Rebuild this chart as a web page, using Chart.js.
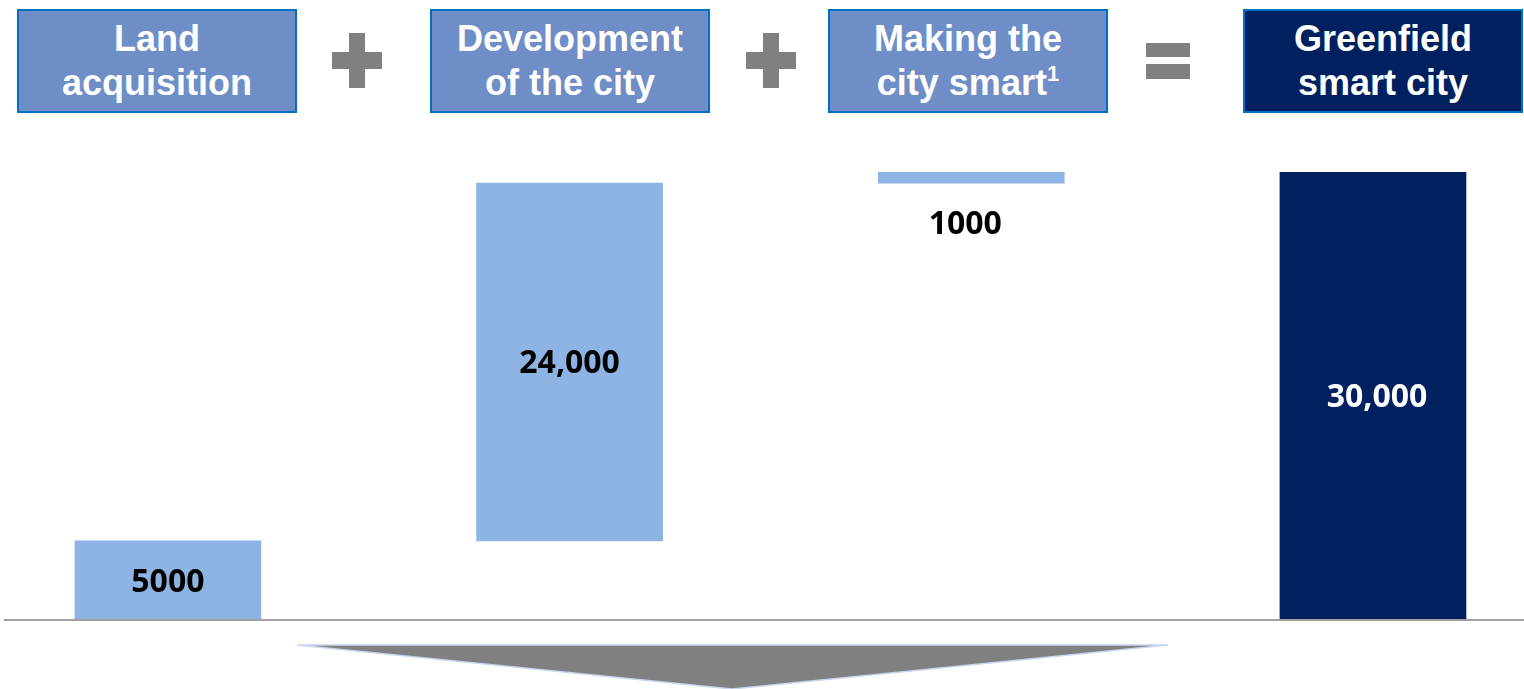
<!DOCTYPE html>
<html>
<head>
<meta charset="utf-8">
<script src="https://cdn.jsdelivr.net/npm/chart.js@4/dist/chart.umd.min.js"></script>
<style>
  html, body { margin: 0; padding: 0; background: #fff; }
  #wrap { position: relative; width: 1524px; height: 689px; overflow: hidden; }
  #myChart { position: absolute; left: 0; top: 0; }
  .hdr {
    position: absolute; top: 9px; width: 276px; height: 100px;
    border: 2px solid #0070C0; background: #6F8DC6; color: #fff;
    font-family: "Liberation Sans", Arial, sans-serif; font-weight: bold;
    font-size: 36px; line-height: 44px; text-align: center;
    display: flex; align-items: center; justify-content: center;
  }
  .hdr sup { font-size: 22px; line-height: 0; vertical-align: 14px; }
  .hdr.total { background: #002060; }
  .op { position: absolute; background: #808080; }
</style>
</head>
<body>
<div id="wrap">
  <canvas id="myChart" width="1524" height="689"></canvas>
</div>
<script>
// categories (header boxes) and values
var categories = ["Land<br>acquisition", "Development<br>of the city", "Making the<br>city smart<sup>1</sup>", "Greenfield<br>smart city"];
var barStarts = [0, 5300, 29250, 0];
var barEnds = [5300, 29250, 30000, 30000];
var valueLabels = ["5000", "24,000", "1000", "30,000"];
var barColors = ["#8EB4E3", "#8EB4E3", "#8EB4E3", "#002060"];
var labelColors = ["#000", "#000", "#000", "#fff"];

var wrap = document.getElementById("wrap");
var boxLeft = [17, 430, 828, 1243];
categories.forEach(function (c, i) {
  var d = document.createElement("div");
  d.className = "hdr" + (i == 3 ? " total" : "");
  d.style.left = boxLeft[i] + "px";
  d.innerHTML = "<span>" + c + "</span>";
  wrap.appendChild(d);
});

// plus, plus, equals
function op(x, y, w, h) {
  var d = document.createElement("div");
  d.className = "op";
  d.style.left = x + "px"; d.style.top = y + "px";
  d.style.width = w + "px"; d.style.height = h + "px";
  wrap.appendChild(d);
}
[332, 746].forEach(function (x) {
  op(x + 17, 33, 16, 55);
  op(x, 52, 50, 17);
});
op(1146, 43, 44, 14);
op(1146, 64, 44, 15);

var data = categories.map(function (c, i) {
  return { x: i, y: [barStarts[i], barEnds[i]] };
});

var extras = {
  id: "extras",
  afterDatasetsDraw: function (chart) {
    var ctx = chart.ctx;
    var y0 = chart.scales.y.getPixelForValue(0);
    ctx.save();
    // baseline
    ctx.strokeStyle = "#A0A0A0";
    ctx.lineWidth = 2;
    ctx.beginPath();
    ctx.moveTo(4, y0);
    ctx.lineTo(1524, y0);
    ctx.stroke();
    // value labels
    ctx.font = "bold 32px 'Open Sans', sans-serif";
    ctx.textAlign = "center";
    ctx.textBaseline = "middle";
    var meta = chart.getDatasetMeta(0);
    meta.data.forEach(function (bar, i) {
      var y = (bar.y + bar.base) / 2;
      if (i == 2) y = Math.max(bar.y, bar.base) + 40;
      ctx.fillStyle = labelColors[i];
      ctx.fillText(valueLabels[i], bar.x + (i == 2 ? -6 : i == 3 ? 4 : 0), y + 2);
    });
    // arrow triangle below
    ctx.beginPath();
    ctx.moveTo(297, 645);
    ctx.lineTo(1168, 645);
    ctx.lineTo(732, 689);
    ctx.closePath();
    ctx.fillStyle = "#808080";
    ctx.fill();
    ctx.strokeStyle = "#C6D6EE";
    ctx.lineWidth = 1.5;
    ctx.stroke();
    ctx.restore();
  }
};

var ctx1 = document.getElementById("myChart").getContext("2d");
var myChart1 = new Chart(ctx1, {
  type: "bar",
  data: {
    datasets: [
      {
        data: data,
        backgroundColor: barColors,
        borderWidth: 0,
        barThickness: 186,
      },
    ],
  },
  options: {
    responsive: false,
    animation: false,
    layout: { padding: { top: 172, bottom: 69, left: 0, right: 0 } },
    plugins: { legend: { display: false }, tooltip: { enabled: false } },
    scales: {
      x: { type: "linear", min: -0.418, max: 3.376, offset: false, display: false },
      y: { min: 0, max: 30000, display: false },
    },
  },
  plugins: [extras],
});
</script>
</body>
</html>
